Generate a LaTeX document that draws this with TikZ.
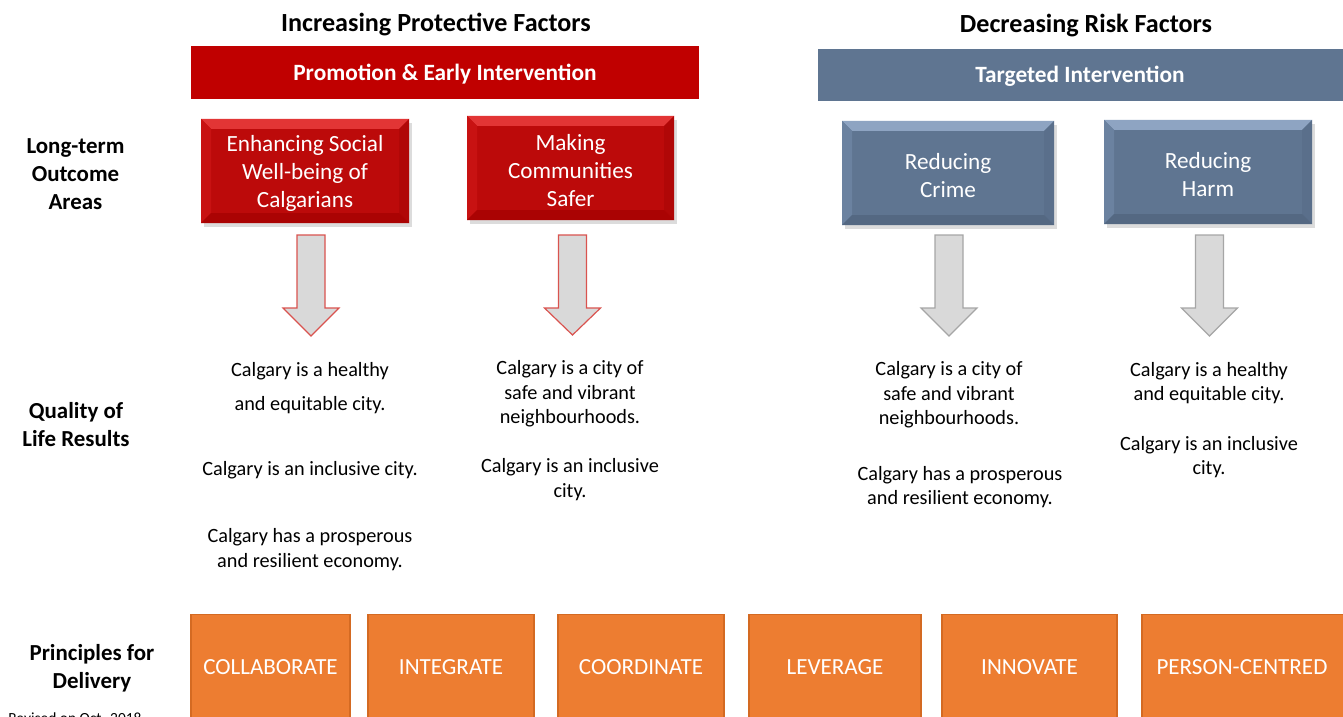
\documentclass[tikz,border=0pt]{standalone}
\usepackage{fontspec}
\setmainfont{Carlito}
\usetikzlibrary{calc}
\definecolor{redbar}{HTML}{C00000}
\definecolor{redbase}{HTML}{BC0A0A}
\definecolor{redtop}{HTML}{E23535}
\definecolor{redleft}{HTML}{C81212}
\definecolor{redright}{HTML}{B00707}
\definecolor{redbot}{HTML}{AA0303}
\definecolor{bluebar}{HTML}{5F7591}
\definecolor{bluebase}{HTML}{5F7591}
\definecolor{bluetop}{HTML}{8EA4C2}
\definecolor{blueleft}{HTML}{6B82A0}
\definecolor{blueright}{HTML}{5A6F8B}
\definecolor{bluebot}{HTML}{546882}
\definecolor{orangebox}{HTML}{ED7D31}
\definecolor{orangeedge}{HTML}{D46A22}
\definecolor{arrowfill}{HTML}{D9D9D9}
\definecolor{arrowred}{HTML}{D9534F}
\definecolor{arrowgray}{HTML}{A6A6A6}
\tikzset{
  bodytext/.style={font=\fontsize{15.2}{18.5}\selectfont, align=center, text=black, inner sep=0pt},
  sidelabel/.style={font=\fontsize{17.2}{21}\selectfont\bfseries, align=center, text=black, inner sep=0pt},
  titletext/.style={font=\fontsize{19.6}{23}\selectfont\bfseries, text=black, inner sep=0pt},
  bartext/.style={font=\fontsize{17.5}{21}\selectfont\bfseries, text=white, inner sep=0pt},
  boxtext/.style={font=\fontsize{17.4}{21}\selectfont, text=white, align=center, inner sep=0pt},
  orangetext/.style={font=\fontsize{17.3}{20}\selectfont, text=white, inner sep=0pt},
  orangebox/.style={fill=orangebox, draw=orangeedge, line width=0.8pt},
  redarrow/.style={fill=arrowfill, draw=arrowred, line width=0.9pt},
  grayarrow/.style={fill=arrowfill, draw=arrowgray, line width=0.9pt},
}
% bevelled box: #1 name, #2 x1, #3 y1, #4 x2, #5 y2, #6 colour prefix, #7 text
\newcommand\bevelbox[7]{%
  \fill[black!30, opacity=0.45] (#2+3,#3+4) rectangle (#4+3,#5+4);
  \fill[#6base] (#2,#3) rectangle (#4,#5);
  \fill[#6top] (#2,#3) -- (#4,#3) -- (#4-10,#3+10) -- (#2+10,#3+10) -- cycle;
  \fill[#6left] (#2,#3) -- (#2+10,#3+10) -- (#2+10,#5-10) -- (#2,#5) -- cycle;
  \fill[#6right] (#4,#3) -- (#4-10,#3+10) -- (#4-10,#5-10) -- (#4,#5) -- cycle;
  \fill[#6bot] (#2,#5) -- (#2+10,#5-10) -- (#4-10,#5-10) -- (#4,#5) -- cycle;
  \node[boxtext] (#1) at ({(#2+#4)/2},{(#3+#5)/2+2.5}) {#7};
}
% block arrow: #1 style, #2 centre x, #3 shaft half width, #4 head half width, #5 top y, #6 head y, #7 tip y
\newcommand\blockarrow[7]{%
  \draw[#1] (#2-#3,#5) -- (#2+#3,#5) -- (#2+#3,#6) -- (#2+#4,#6) -- (#2,#7)
    -- (#2-#4,#6) -- (#2-#3,#6) -- cycle;
}
\begin{document}
\begin{tikzpicture}[x=0.75pt,y=-0.75pt]
\useasboundingbox (0,0) rectangle (1343,717);
\fill[white] (0,0) rectangle (1343,717);

% titles
\node[titletext] (t1) at (436,25) {Increasing Protective Factors};
\node[titletext] (t2) at (1086,26) {Decreasing Risk Factors};

% bars
\fill[redbar] (191,46) rectangle (699,99);
\node[bartext] (bar1) at (445,74) {Promotion \& Early Intervention};
\fill[bluebar] (818,49) rectangle (1343,101);
\node[bartext] (bar2) at (1080,76) {Targeted Intervention};

% side labels
\node[sidelabel] (lab1) at (75.5,174.5) {Long-term\\Outcome\\Areas};
\node[sidelabel] (lab2) at (76,424.5) {Quality of\\Life Results};
\node[sidelabel] (lab3) at (92,668) {Principles for\\Delivery};

% outcome boxes
\bevelbox{o1}{201}{119}{409}{223}{red}{Enhancing Social\\Well-being of\\Calgarians}
\bevelbox{o2}{467}{116}{674}{220}{red}{Making\\Communities\\Safer}
\bevelbox{o3}{842}{121}{1054}{225}{blue}{Reducing\\Crime}
\bevelbox{o4}{1104}{120}{1312}{224}{blue}{Reducing\\Harm}

% block arrows
\blockarrow{redarrow}{311}{14}{28}{235}{308}{336}
\blockarrow{redarrow}{572.5}{14}{28}{235}{308}{335}
\blockarrow{grayarrow}{949}{14}{28}{235}{308}{336}
\blockarrow{grayarrow}{1209.5}{14}{28}{235}{308}{336}

% quality of life results
\node[bodytext] (r1a) at (310,388) {Calgary is a healthy\\[7pt]and equitable city.};
\node[bodytext] (r1b) at (310,470) {Calgary is an inclusive city.};
\node[bodytext] (r1c) at (310,549.5) {Calgary has a prosperous\\and resilient economy.};
\node[bodytext] (r2a) at (570,394) {Calgary is a city of\\safe and vibrant\\neighbourhoods.};
\node[bodytext] (r2b) at (570,479.5) {Calgary is an inclusive\\city.};
\node[bodytext] (r3a) at (949,395) {Calgary is a city of\\safe and vibrant\\neighbourhoods.};
\node[bodytext] (r3b) at (960,487) {Calgary has a prosperous\\and resilient economy.};
\node[bodytext] (r4a) at (1209,383) {Calgary is a healthy\\and equitable city.};
\node[bodytext] (r4b) at (1209,457) {Calgary is an inclusive\\city.};

% principles
\foreach \xa/\xb in {191/350, 368/534, 558/724, 749/921, 942/1117, 1142/1350}{
  \draw[orangebox] (\xa,614.5) rectangle (\xb,730);
}
\node[orangetext] (p1) at (270.5,667.5) {COLLABORATE};
\node[orangetext] (p2) at (451,667.5) {INTEGRATE};
\node[orangetext] (p3) at (641,667.5) {COORDINATE};
\node[orangetext] (p4) at (835,667.5) {LEVERAGE};
\node[orangetext] (p5) at (1029.5,667.5) {INNOVATE};
\node[orangetext] (p6) at (1242,667.5) {PERSON-CENTRED};

\node[font=\fontsize{11.6}{13}\selectfont, anchor=base west, inner sep=0pt] (rev) at (8,723) {Revised on Oct. 2018};
\end{tikzpicture}
\end{document}
